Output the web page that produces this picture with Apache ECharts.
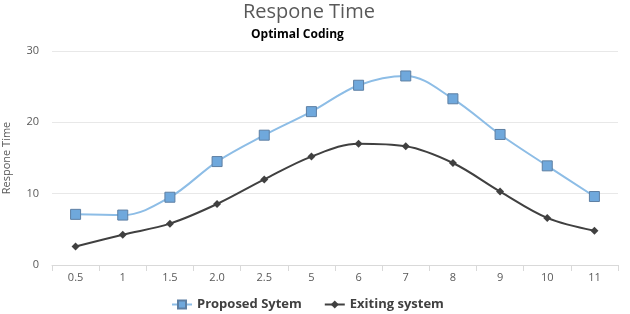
<!DOCTYPE html>
<html>
<head>
<meta charset="utf-8">
<script src="https://cdn.jsdelivr.net/npm/echarts@6/dist/echarts.min.js"></script>
<style>
  html, body { margin: 0; padding: 0; background: #fff; }
  #chart { width: 630px; height: 314px; }
</style>
</head>
<body>
<div id="chart"></div>
<script>
// x categories
const categories = ['0.5', '1', '1.5', '2.0', '2.5', '5', '6', '7', '8', '9', '10', '11']
// response times
const proposed = [7.1, 7.0, 9.5, 14.5, 18.2, 21.5, 25.2, 26.5, 23.3, 18.3, 13.9, 9.6]
const existing = [2.6, 4.25, 5.8, 8.55, 12.0, 15.2, 17.0, 16.65, 14.3, 10.3, 6.6, 4.8]
const seriesNames = ['Proposed Sytem', 'Exiting system']

const chart = echarts.init(document.getElementById('chart'))

chart.setOption({
  animation: false,
  title: [
    {
      text: 'Respone Time',
      left: 238,
      top: -3,
      textStyle: {fontFamily: 'Open Sans', fontSize: 20, fontWeight: 'normal', color: '#595959'}
    },
    {
      text: 'Optimal Coding',
      left: 246,
      top: 24,
      textStyle: {fontFamily: 'Open Sans', fontSize: 12, fontWeight: 'bold', color: '#000'}
    }
  ],
  legend: {
    bottom: -2,
    left: 166,
    itemGap: 22,
    itemWidth: 20,
    itemHeight: 10,
    textStyle: {fontFamily: 'Open Sans', fontSize: 13, fontWeight: 'bold', color: '#404040'},
    data: seriesNames
  },
  grid: {left: 52, right: 12, top: 51, bottom: 49, outerBoundsMode: 'none', containLabel: false},
  xAxis: {
    type: 'category',
    data: categories,
    boundaryGap: true,
    axisLine: {lineStyle: {color: '#d9d9d9'}},
    axisTick: {show: true, length: 6, lineStyle: {color: '#d9d9d9'}},
    axisLabel: {fontFamily: 'Open Sans', fontSize: 11, color: '#595959', margin: 7}
  },
  yAxis: {
    type: 'value',
    min: 0,
    max: 30,
    interval: 10,
    name: 'Respone Time',
    nameLocation: 'middle',
    nameGap: 40,
    nameTextStyle: {fontFamily: 'Open Sans', fontSize: 11, color: '#595959'},
    axisLine: {show: false},
    axisTick: {show: false},
    splitLine: {lineStyle: {color: '#e8e8e8'}},
    axisLabel: {fontFamily: 'Open Sans', fontSize: 11, color: '#595959', margin: 13}
  },
  series: [
    {
      name: seriesNames[0],
      type: 'line',
      data: proposed,
      smooth: 0.35,
      symbol: 'rect',
      symbolSize: 10,
      lineStyle: {color: '#8dbde6', width: 2},
      itemStyle: {color: '#6fa8dc', borderColor: '#5d7fa3', borderWidth: 1}
    },
    {
      name: seriesNames[1],
      type: 'line',
      data: existing,
      smooth: 0.35,
      symbol: 'diamond',
      symbolSize: 8,
      lineStyle: {color: '#404040', width: 2},
      itemStyle: {color: '#404040'}
    }
  ]
})
</script>
</body>
</html>
